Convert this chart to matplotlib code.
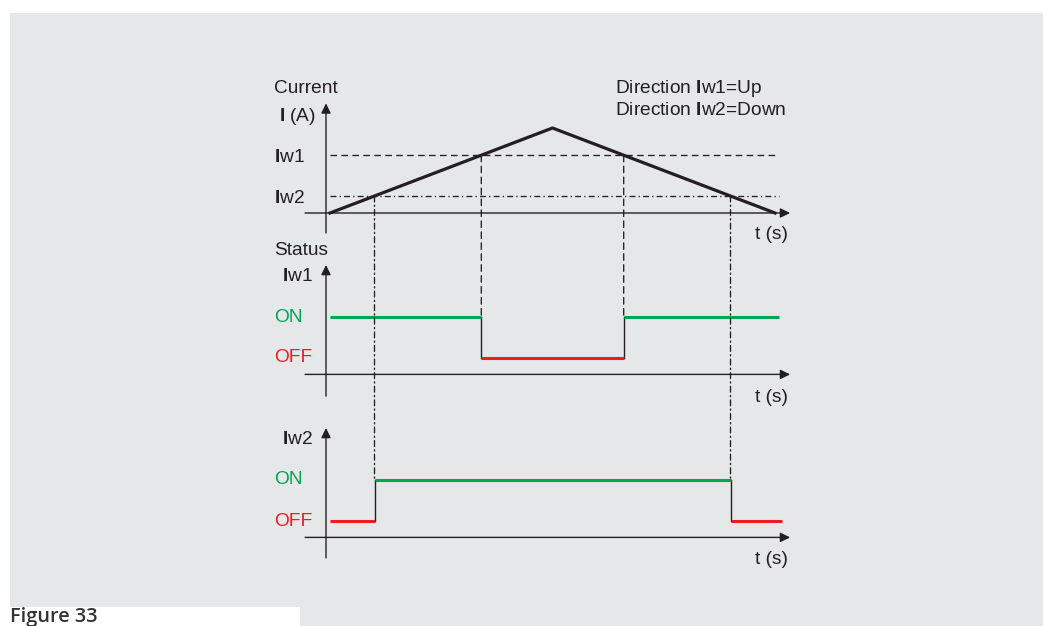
import matplotlib.pyplot as plt
from matplotlib.patches import Rectangle, ConnectionPatch

plt.rcParams['font.family'] = ['Liberation Sans', 'DejaVu Sans']
plt.rcParams['mathtext.fontset'] = 'custom'
plt.rcParams['mathtext.rm'] = 'Liberation Sans'
plt.rcParams['mathtext.bf'] = 'Liberation Sans:bold'

###############################################################################
# Data
###############################################################################
# current ramp (time in s, current in A)
time = [0, 5, 10]
current = [0, 10, 0]
IW1, IW2 = 6.8, 2.0
T_LINE_END = 10.1
# threshold crossings
iw1_cross = [3.4, 6.6]
iw2_cross = [1.0, 9.0]
# status segments: (t start, t end, state) with 1=ON, 0=OFF
iw1_status = [(0, 3.4, 1), (3.4, 6.6, 0), (6.6, 10.1, 1)]
iw2_status = [(0, 1.0, 0), (1.0, 9.0, 1), (9.0, 10.15, 0)]

###############################################################################
# Styles
###############################################################################
W, H = 1043, 626
X0, PPT = 330, 44.5          # pixel of t=0, pixels per second
K = '#231f20'
GREEN, RED = '#00a651', '#ed1c24'
BG = '#e6e7e9'
FS = 13.8
DASH = (0, (5, 3.3))
DASHDOT = (0, (4.5, 2.4, 1.0, 2.4))
ARW = '-|>,head_length=0.45,head_width=0.22'

fig = plt.figure(figsize=(W / 100, H / 100), dpi=100)
fig.patch.set_facecolor('white')
fig.add_artist(Rectangle((10 / W, 0), 1, 1 - 13 / H, transform=fig.transFigure,
                         facecolor=BG, edgecolor='none', zorder=-5))
fig.add_artist(Rectangle((0, 0), 300 / W, (H - 607) / H, transform=fig.transFigure,
                         facecolor='white', edgecolor='none', zorder=-4))
fig.text(10 / W, 1 - 617 / H, 'Figure 33', family=['Open Sans', 'DejaVu Sans'],
         fontweight='semibold', fontsize=14.3, color='#333333', va='center')


def panel(y0_px, ppu, lo, hi):
    top = y0_px - hi * ppu
    bot = y0_px - lo * ppu
    ax = fig.add_axes([0, 1 - bot / H, 1, (bot - top) / H])
    ax.set_xlim(-X0 / PPT, (W - X0) / PPT)
    ax.set_ylim(lo, hi)
    ax.set_axis_off()
    return ax


def axes_arrows(ax, y_axis, y_lo, y_hi):
    kw = dict(arrowstyle=ARW, lw=1.0, color=K, mutation_scale=13,
              shrinkA=0, shrinkB=0)
    ax.annotate('', xy=(-0.09, y_hi), xytext=(-0.09, y_lo), arrowprops=kw)
    ax.annotate('', xy=(10.34, y_axis), xytext=(-0.56, y_axis), arrowprops=kw)


def status(ax, segs):
    for (a, b, s) in segs:
        ax.plot([a, b], [s, s], color=GREEN if s else RED, lw=2.2,
                solid_capstyle='butt', zorder=3)
    for (s1, s2) in zip(segs[:-1], segs[1:]):
        ax.plot([s1[1], s1[1]], [s1[2], s2[2]], color=K, lw=1.0, zorder=2)


###############################################################################
# Current panel
###############################################################################
ax1 = panel(213, 8.5, -4, 16)
axes_arrows(ax1, 0, -2.35, 12.9)
ax1.plot(time, current, color=K, lw=2.3, zorder=4)
ax1.plot([0, T_LINE_END], [IW1, IW1], color=K, lw=0.95, ls=DASH)
ax1.plot([0, T_LINE_END], [IW2, IW2], color=K, lw=0.95, ls=DASHDOT)
ax1.text(-1.26, 14.65, 'Current', fontsize=FS, color=K, va='center')
ax1.text(-0.31, 11.3, r'$\mathbf{I}$ (A)', fontsize=FS, color=K, va='center', ha='right')
ax1.text(-1.26, 6.5, r'$\mathbf{I}$w1', fontsize=FS, color=K, va='center')
ax1.text(-1.26, 1.76, r'$\mathbf{I}$w2', fontsize=FS, color=K, va='center')
ax1.text(10.29, -2.53, 't (s)', fontsize=FS, color=K, va='center', ha='right')
ax1.text(6.4, 14.7, r'Direction $\mathbf{I}$w1=Up', fontsize=FS, color=K, va='center')
ax1.text(6.4, 12.1, r'Direction $\mathbf{I}$w2=Down', fontsize=FS, color=K, va='center')

###############################################################################
# Status Iw1 panel
###############################################################################
ax2 = panel(358, 41, -1.5, 2.9)
axes_arrows(ax2, -0.4, -0.93, 2.27)
status(ax2, iw1_status)
ax2.text(-1.26, 2.63, 'Status', fontsize=FS, color=K, va='center')
ax2.text(-0.38, 1.99, r'$\mathbf{I}$w1', fontsize=FS, color=K, va='center', ha='right')
ax2.text(-1.26, 1, 'ON', fontsize=FS, color=GREEN, va='center')
ax2.text(-1.26, 0, 'OFF', fontsize=FS, color=RED, va='center')
ax2.text(10.29, -0.96, 't (s)', fontsize=FS, color=K, va='center', ha='right')

###############################################################################
# Status Iw2 panel
###############################################################################
ax3 = panel(521, 41, -1.5, 2.5)
axes_arrows(ax3, -0.4, -0.9, 2.27)
status(ax3, iw2_status)
ax3.text(-0.38, 1.98, r'$\mathbf{I}$w2', fontsize=FS, color=K, va='center', ha='right')
ax3.text(-1.26, 1, 'ON', fontsize=FS, color=GREEN, va='center')
ax3.text(-1.26, 0, 'OFF', fontsize=FS, color=RED, va='center')
ax3.text(10.29, -0.93, 't (s)', fontsize=FS, color=K, va='center', ha='right')

###############################################################################
# Drop lines from the threshold crossings to the status changes
###############################################################################
for t in iw1_cross:
    fig.add_artist(ConnectionPatch(xyA=(t, IW1), coordsA=ax1.transData,
                                   xyB=(t, 1), coordsB=ax2.transData,
                                   color=K, lw=0.95, ls=DASH))
for t in iw2_cross:
    fig.add_artist(ConnectionPatch(xyA=(t, IW2), coordsA=ax1.transData,
                                   xyB=(t, 1), coordsB=ax3.transData,
                                   color=K, lw=0.95, ls=DASHDOT))

fig.savefig('out.png', dpi=100, facecolor=fig.get_facecolor())
